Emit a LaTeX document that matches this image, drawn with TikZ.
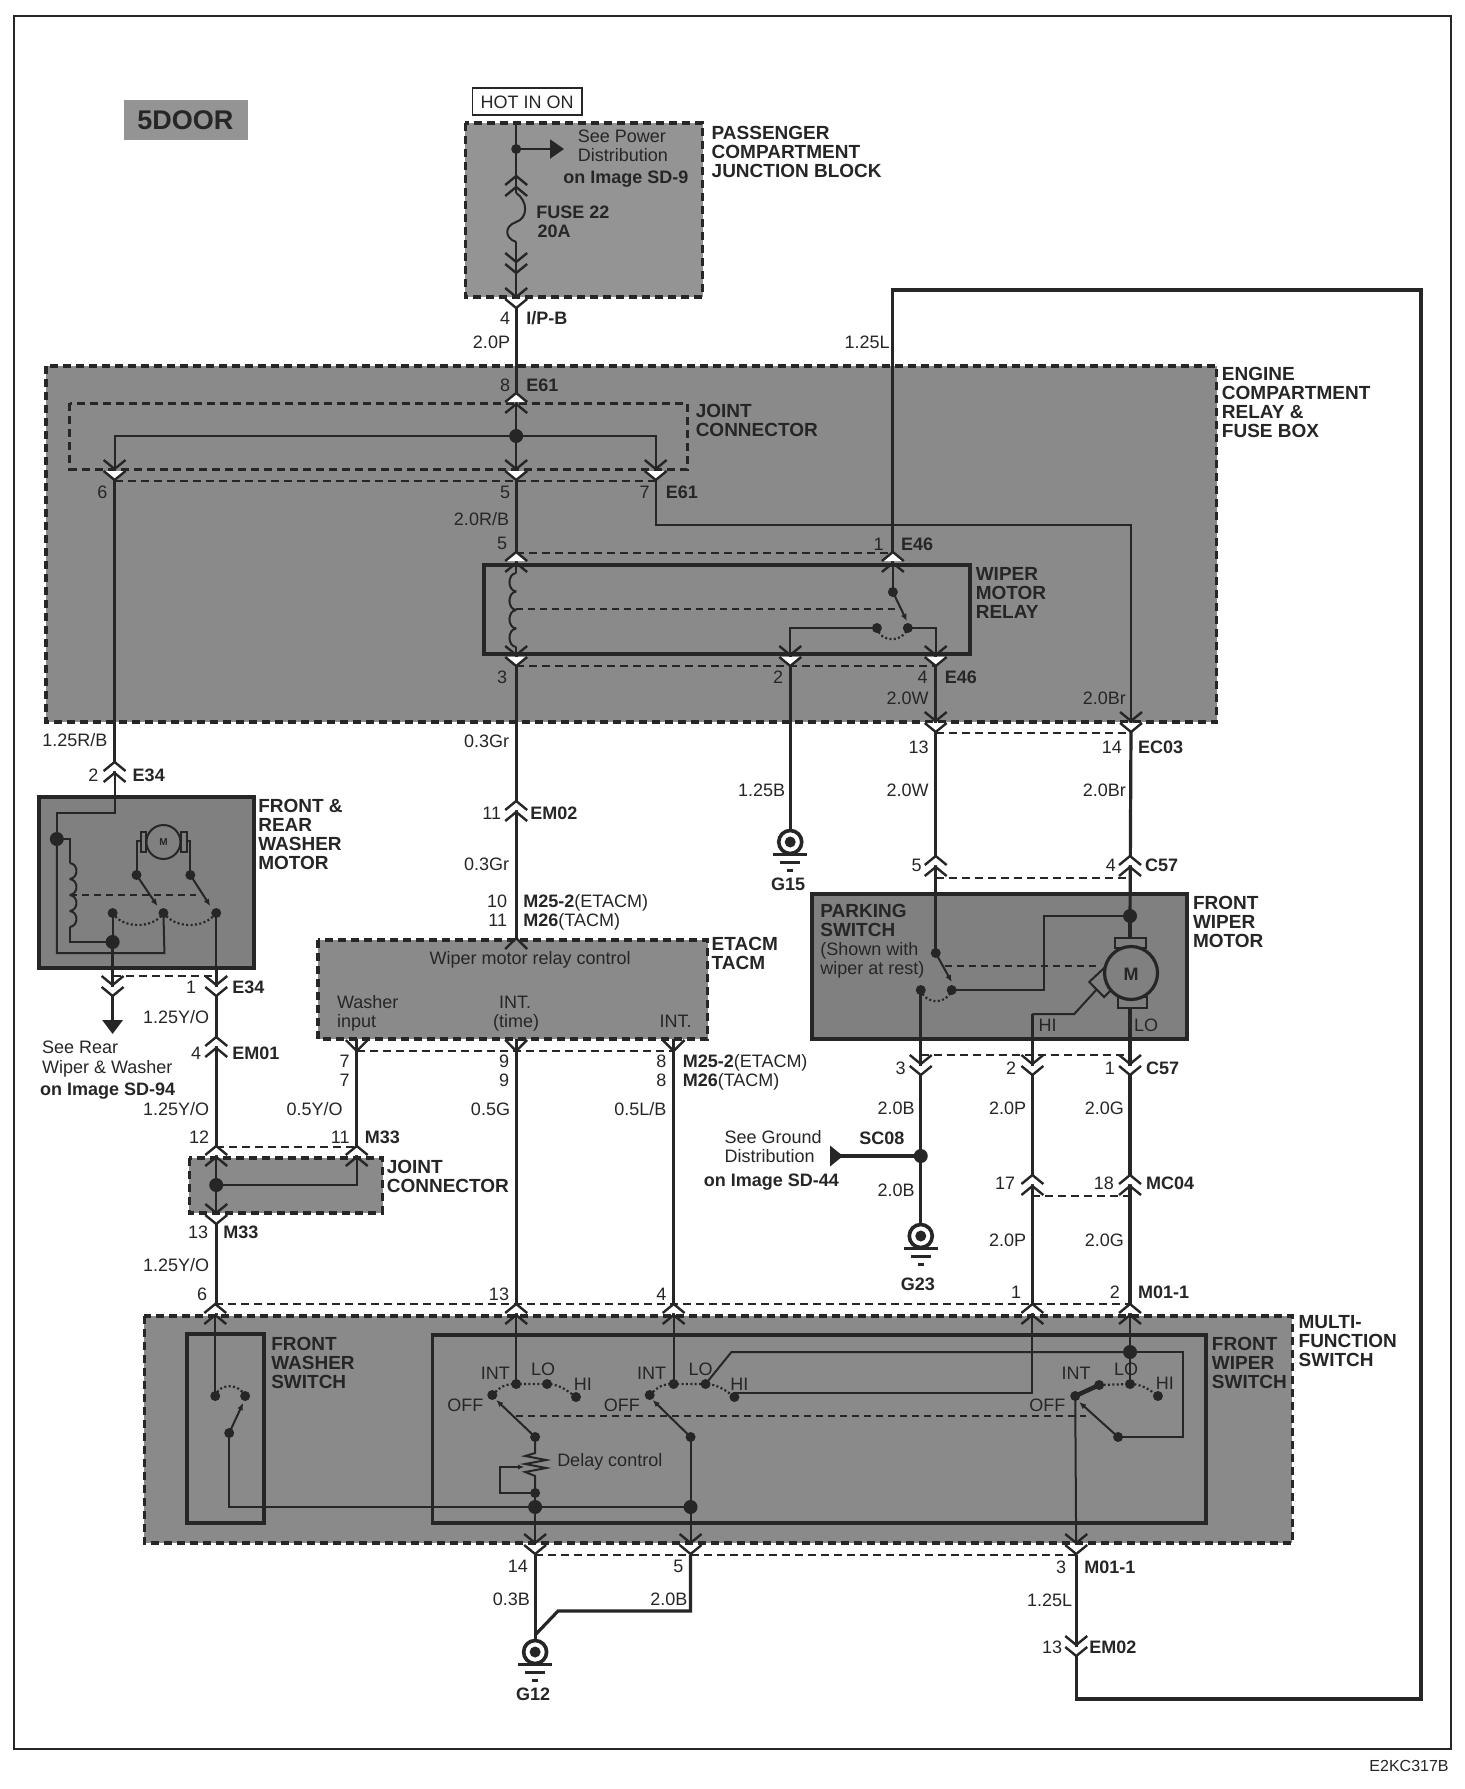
\documentclass[tikz,border=0pt]{standalone}
\usepackage{fontspec}
\setmainfont{Liberation Sans}
\usetikzlibrary{arrows.meta}
\colorlet{ink}{black!85}
\colorlet{boxgray}{black!46}
\colorlet{boxdark}{black!50}
\tikzset{
  wire/.style={ink,line width=3.2pt},
  wirethin/.style={ink,line width=2pt},
  linkdash/.style={ink,line width=1.7pt,dash pattern=on 8pt off 5pt},
  relaydash/.style={ink,line width=1.7pt,dash pattern=on 7pt off 5pt},
  dotline/.style={ink,line width=2.2pt,dash pattern=on 2pt off 2.4pt},
  grayzone/.style={fill=boxgray,draw=ink,line width=3.4pt,dash pattern=on 8pt off 5pt},
  solidbox/.style={draw=ink,line width=3.8pt},
  lbl/.style={font=\fontsize{18}{18}\selectfont,text=ink,inner sep=0pt,text height=13pt,text depth=0pt},
  bold/.style={lbl,font=\bfseries\fontsize{18}{18}\selectfont},
  tag/.style={font=\bfseries\fontsize{19}{19}\selectfont,text=ink,inner sep=0pt,anchor=north west,align=left},
  twindown/.pic={
    \draw[ink,line width=2.4pt] (-11,-9) -- (0,0) -- (11,-9);
    \draw[ink,line width=2.4pt] (-11,2) -- (0,11) -- (11,2);
  },
  twinup/.pic={
    \draw[ink,line width=2.4pt] (-11,9) -- (0,0) -- (11,9);
    \draw[ink,line width=2.4pt] (-11,-2) -- (0,-11) -- (11,-2);
  },
  plugdown/.pic={
    \fill[white] (-9,2) -- (0,11) -- (9,2) -- cycle;
    \draw[ink,line width=2.4pt] (-11,-9) -- (0,0) -- (11,-9);
    \draw[ink,line width=2.4pt] (-11,2) -- (0,11) -- (11,2);
  },
  plugup/.pic={
    \fill[white] (-9,-2) -- (0,-11) -- (9,-2) -- cycle;
    \draw[ink,line width=2.4pt] (-11,9) -- (0,0) -- (11,9);
    \draw[ink,line width=2.4pt] (-11,-2) -- (0,-11) -- (11,-2);
  },
  capdown/.pic={\draw[ink,line width=2.4pt] (-11,-11) -- (0,0) -- (11,-11);},
  capup/.pic={\draw[ink,line width=2.4pt] (-11,11) -- (0,0) -- (11,11);},
  groundsym/.pic={
    \draw[ink,line width=3.6pt,fill=white] (0,0) circle (11.5pt);
    \fill[ink] (0,0) circle (5.5pt);
    \draw[ink,line width=3pt] (-17,12) -- (17,12);
    \draw[ink,line width=3pt] (-10,20) -- (10,20);
    \draw[ink,line width=3pt] (-3,28) -- (3,28);
  },
}
\begin{document}
\begin{tikzpicture}[x=0.9965pt,y=-1pt]
  \useasboundingbox (0,0) rectangle (1470.1,1789);
  \fill[white] (0,0) rectangle (1470.1,1789);
  \draw[ink,line width=1.6pt] (14,16) rectangle (1456,1749);

  % gray zones
  \fill[black!42] (124,100) rectangle (249,140);
  \draw[grayzone,fill=black!42] (467,123) rectangle (705,297);
  \draw[grayzone] (46,366) rectangle (1221,722);
  \draw[grayzone] (319,940) rectangle (710,1039);
  \draw[grayzone] (190,1158) rectangle (384,1213);
  \draw[grayzone] (145,1316) rectangle (1297,1543);
  \fill[boxdark] (39,797) rectangle (255,968);
  \fill[boxdark] (815,894) rectangle (1191,1039);
  \draw[ink,line width=3pt,dash pattern=on 8pt off 5pt] (70,403) rectangle (690,469);

  % solid boxes
  \draw[ink,line width=1.6pt] (474,88) rectangle (584,115);
  \draw[solidbox] (486,565) rectangle (973,654);
  \draw[solidbox] (39,797) rectangle (255,968);
  \draw[solidbox] (815,894) rectangle (1191,1039);
  \draw[solidbox] (188,1334) rectangle (265,1523);
  \draw[solidbox] (434,1335) rectangle (1210,1523);

  % wire points
  \coordinate (hot) at (518,123);
  \coordinate (jpower) at (518,149);
  \coordinate (powerTip) at (566,149);
  \coordinate (fuseIn) at (518,193);
  \coordinate (fuseOut) at (518,242);
  \coordinate (ipb) at (518,297);
  \coordinate (jjoint) at (518,436);
  \coordinate (e61l) at (115,469);
  \coordinate (e61m) at (518,469);
  \coordinate (e61r) at (658,469);
  \coordinate (coilTop) at (518,573);
  \coordinate (coilEnd) at (518,647);
  \coordinate (relayBot) at (518,655);
  \coordinate (em02a) at (518,938);
  \coordinate (relayFeed) at (1135,721);
  \coordinate (armTop) at (896,592);
  \coordinate (relayNC) at (880,628);
  \coordinate (relayNO) at (911,628);
  \coordinate (relay2) at (793,655);
  \coordinate (relay4) at (939,655);
  \coordinate (g15) at (793,842);
  \coordinate (c57a) at (939,722);
  \coordinate (parkTop) at (939,953);
  \coordinate (parkA) at (924,990);
  \coordinate (parkB) at (955,990);
  \coordinate (jmotor) at (1134,916);
  \coordinate (motor) at (1135,973);
  \coordinate (sc08) at (924,1156);
  \coordinate (sc08Tip) at (833,1156);
  \coordinate (g23) at (924,1236);
  \coordinate (g12) at (537,1652);
  \coordinate (lo3) at (1134,1384);
  \coordinate (jlo3) at (1134,1352);
  \coordinate (hiWire) at (1036,1014);
  \coordinate (piv3) at (1122,1437);
  \coordinate (off3) at (1079,1396);
  \coordinate (int3) at (1103,1385);
  \coordinate (hi3) at (1162,1396);
  \coordinate (piv1) at (537,1437);
  \coordinate (off1) at (494,1395);
  \coordinate (int1) at (518,1384);
  \coordinate (lo1) at (549,1384);
  \coordinate (hi1) at (578,1397);
  \coordinate (piv2) at (693,1437);
  \coordinate (off2) at (652,1395);
  \coordinate (int2) at (676,1384);
  \coordinate (lo2) at (708,1384);
  \coordinate (hi2) at (737,1397);
  \coordinate (rheo) at (537,1493);
  \coordinate (jg1) at (537,1507);
  \coordinate (jg2) at (693,1507);
  \coordinate (wsA) at (216,1396);
  \coordinate (wsB) at (246,1396);
  \coordinate (wsP) at (230,1433);
  \coordinate (jm33) at (217,1185);
  \coordinate (m33r) at (358,1157);
  \coordinate (wm) at (164,842);
  \coordinate (wmIn) at (57,839);
  \coordinate (wmA) at (137,875);
  \coordinate (wmB) at (191,875);
  \coordinate (wmC) at (113,913);
  \coordinate (wmD) at (164,913);
  \coordinate (wmE) at (217,913);
  \coordinate (wmG) at (113,942);

  % wires, top group
  \draw[wirethin] (hot) -- (fuseIn);
  \draw[wirethin] (fuseIn) .. controls (530,201) and (530,218) .. (518,222) .. controls (506,226) and (506,238) .. (fuseOut);
  \draw[wirethin] (fuseOut) -- (ipb);
  \draw[wire] (ipb) -- (518,404);
  \draw[wirethin,-{Triangle[length=14pt,width=19pt]}] (jpower) -- (powerTip);
  \draw[wirethin] (518,404) -- (e61m);
  \draw[wirethin] (e61l) |- (jjoint) -| (e61r);
  \draw[wire] (e61l) -- (115,773);
  \draw[wire] (e61m) -- (518,565);
  \draw[wirethin] (e61r) |- (1135,525) -- (relayFeed);
  \foreach \y in {573,591.5,610,628.5}
    \draw[wirethin] (518,\y) .. controls (509,\y+1) and (509,\y+17.5) .. (518,\y+18.5);
  \draw[wirethin] (518,563) -- (coilTop);
  \draw[wirethin] (coilEnd) -- (relayBot);
  \draw[wire] (relayBot) -- (em02a);
  \draw[wire] (896,565) -- (896,290) -- (1426,290) -- (1426,1699) -- (1080,1699) -- (1080,1555);
  \draw[wirethin] (896,565) -- (armTop);
  \draw[wirethin,-{Latex[length=7pt,width=6pt]}] (armTop) -- (910,621);
  \draw[wirethin] (relayNC) -- (793,628) -- (relay2);
  \draw[wirethin] (relayNO) -- (939,628) -- (relay4);
  \draw[wire] (relay2) -- (g15);
  \draw[wire] (relay4) -- (c57a);
  \draw[wire] (relayFeed) -- (1135,722);
  \draw[wire] (c57a) -- (parkTop);
  \draw[wire] (1135,722) -- (jmotor);

  % front wiper motor
  \draw[wirethin,-{Latex[length=7pt,width=6pt]}] (parkTop) -- (955,982);
  \draw[wirethin] (parkB) -| (1048,916) -- (jmotor);
  \draw[wire] (jmotor) -- (1134,938);
  \draw[wirethin] (1119,938) rectangle (1150,948);
  \draw[wirethin] (1122,997) rectangle (1151,1008);
  \draw[wirethin,fill=boxdark] (1109,967) -- (1093,982) -- (1108,997) -- (1118,987) -- cycle;
  \draw[wire,fill=boxdark] (motor) circle (26.5pt);
  \draw[wirethin] (1100,990) -- (1078,1014) -- (hiWire);
  \draw[wire] (hiWire) -- (1036,1064);
  \draw[wire] (1134,1008) -- (1134,1064);
  \draw[wire] (parkA) -- (924,1064);
  \draw[wire] (924,1064) -- (g23);
  \draw[wire,-{Triangle[length=13pt,width=20pt,reversed]}] (sc08) -- (sc08Tip);
  \draw[wire] (1036,1064) -- (1036,1315);
  \draw[wire] (1134,1064) -- (1134,1315);

  % washer motor side
  \draw[wirethin] (115,773) -- (115,813) -| (wmIn);
  \draw[wirethin] (wmIn) -- (57,953) -- (165,953) -- (wmD);
  \draw[wirethin] (wmIn) -- (70,839) -- (70,863);
  \foreach \y in {863,879,895,911}
    \draw[wirethin] (70,\y) .. controls (79,\y+1) and (79,\y+15) .. (70,\y+16);
  \draw[wirethin] (70,927) |- (wmG);
  \draw[wirethin] (wmC) -- (wmG);
  \draw[wire] (wmG) -- (113,1020);
  \draw[wire,-{Triangle[length=14pt,width=20pt]}] (113,1020) -- (113,1034);
  \draw[wirethin,fill=boxdark] (wm) circle (17pt);
  \draw[wirethin] (141,832) rectangle (147,852);
  \draw[wirethin] (182,832) rectangle (188,852);
  \draw[wirethin] (wmA) |- (141,841);
  \draw[wirethin] (wmB) |- (188,841);
  \draw[wirethin,-{Latex[length=7pt,width=6pt]}] (wmA) -- (158,906);
  \draw[wirethin,-{Latex[length=7pt,width=6pt]}] (wmB) -- (211,906);
  \draw[wirethin] (wmE) -- (217,968);
  \draw[wire] (217,968) -- (217,1157);
  \draw[wirethin] (217,1157) -- (217,1213);
  \draw[wirethin] (jm33) -| (m33r);
  \draw[wire] (217,1213) -- (217,1315);
  \draw[wire] (358,1039) -- (m33r);
  \draw[wire] (518,1039) -- (518,1315);
  \draw[wire] (676,1039) -- (676,1315);

  % multi-function switch
  \draw[wirethin] (216,1315) -- (wsA);
  \draw[wirethin,-{Latex[length=7pt,width=6pt]}] (wsP) -- (244,1403);
  \draw[wirethin] (wsP) |- (jg2);
  \draw[wirethin] (518,1315) -- (int1);
  \draw[wirethin] (676,1315) -- (int2);
  \draw[wirethin,-{Latex[length=7pt,width=6pt]}] (piv1) -- (498,1400);
  \draw[wirethin,-{Latex[length=7pt,width=6pt]}] (piv2) -- (655,1400);
  \draw[wirethin,-{Latex[length=7pt,width=6pt]}] (piv3) -- (1083,1402);
  \draw[wirethin] (piv1) -- (537,1453) -- (527,1456) -- (548,1460) -- (527,1464) -- (548,1468) -- (527,1472) -- (537,1476) -- (rheo);
  \draw[wirethin,-{Latex[length=6pt,width=5pt]}] (rheo) -| (502,1467) -- (526,1467);
  \draw[wirethin] (rheo) -- (537,1555);
  \draw[wirethin] (piv2) -- (693,1555);
  \draw[wirethin] (lo2) -- (734,1352) -- (jlo3);
  \draw[wirethin] (1134,1315) -- (lo3);
  \draw[wirethin] (jlo3) -- (1187,1352) |- (piv3);
  \draw[wirethin] (hi2) -- (737,1393) -- (1036,1393) -- (1036,1315);
  \draw[line width=4.5pt,ink] (off3) -- (int3);
  \draw[wirethin] (off3) -- (1080,1555);
  \draw[wire] (537,1555) -- (537,1635);
  \draw[wire] (693,1555) -- (693,1611) -- (560,1611) -- (537,1635);
  \draw[wire] (537,1635) -- (537,1642);

  % switch travel
  \draw[dotline] (relayNC) .. controls +(4,15) and +(-5,15) .. (relayNO);
  \draw[dotline] (parkA) .. controls +(5,15) and +(-5,15) .. (parkB);
  \draw[dotline] (wmC) .. controls +(10,16) and +(-10,16) .. (wmD);
  \draw[dotline] (wmD) .. controls +(12,16) and +(-12,16) .. (wmE);
  \draw[dotline] (wsA) .. controls +(4,-13) and +(-6,-13) .. (wsB);
  \draw[dotline] (off1) .. controls +(8,-8) and +(-12,0) .. (int1) -- (lo1) .. controls +(12,0) and +(-8,-6) .. (hi1);
  \draw[dotline] (off2) .. controls +(8,-8) and +(-12,0) .. (int2) -- (lo2) .. controls +(12,0) and +(-8,-6) .. (hi2);
  \draw[dotline] (int3) -- (lo3) .. controls +(12,0) and +(-8,-6) .. (hi3);

  % mechanical links and connector ties
  \draw[relaydash] (518,609) -- (899,609);
  \draw[relaydash] (70,895) -- (197,895);
  \draw[relaydash] (948,966) -- (1101,966);
  \draw[relaydash] (518,1416) -- (1090,1416);
  \foreach \xa/\xb/\y in {115/658/481,518/896/553,518/939/666,939/1135/733,939/1134/878,113/217/976,
      358/676/1051,217/358/1147,924/1134/1055,1036/1134/1196,216/1134/1304,537/1080/1555}
    \draw[linkdash] (\xa,\y) -- (\xb,\y);

  % connectors
  \pic at (518,262) {twindown};
  \pic at (518,187) {twinup};
  \foreach \x/\y in {518/297,115/469,518/469,658/469,518/655,793/655,939/655,939/721,1135/721,113/985,217/985,
      924/1064,1036/1064,1134/1064,217/1213,537/1543,693/1543,1080/1543,1080/1645}
    \pic at (\x,\y) {plugdown};
  \foreach \x/\y in {518/404,518/563,896/563,115/773,518/812,939/867,1134/867,217/1048,217/1157,358/1157,
      1036/1186,1134/1186,216/1315,518/1315,676/1315,1036/1315,1134/1315}
    \pic at (\x,\y) {plugup};
  \pic at (518,938) {capup};
  \foreach \x in {358,518,676}
    \pic at (\x,1051) {capdown};
  \pic at (g15) {groundsym};
  \pic at (g23) {groundsym};
  \pic at (g12) {groundsym};

  % dots
  \foreach \p in {jjoint,jmotor,wmIn,wmG,sc08,jm33,jg1,jg2,jlo3}
    \fill[ink] (\p) circle (7pt);
  \foreach \p in {jpower,armTop,relayNC,relayNO,parkTop,parkA,parkB,wmA,wmB,wmC,wmD,wmE,wsA,wsB,wsP,off1,int1,lo1,hi1,piv1,rheo,
      off2,int2,lo2,hi2,piv2,off3,int3,lo3,hi3,piv3}
    \fill[ink] (\p) circle (5pt);

  % titles
  \node[font=\bfseries\fontsize{27}{27}\selectfont,text=ink,inner sep=0pt] (doors) at (186,120) {5DOOR};
  \node[lbl] (hotin) at (529,102) {HOT IN ON};
  \node[lbl] (tag) at (1414,1765) {\fontsize{16}{16}\selectfont E2KC317B};

  % block names
  \node[tag] (pjb) at (714,126) {PASSENGER\\COMPARTMENT\\JUNCTION BLOCK};
  \node[tag] (ecr) at (1226,367) {ENGINE\\COMPARTMENT\\RELAY \&\\FUSE BOX};
  \node[tag] (joint1) at (698,404) {JOINT\\CONNECTOR};
  \node[tag] (relay) at (979,567) {WIPER\\MOTOR\\RELAY};
  \node[tag] (wash) at (259,799) {FRONT \&\\REAR\\WASHER\\MOTOR};
  \node[tag] (etacm) at (714,937) {ETACM\\TACM};
  \node[tag] (fwm) at (1197,896) {FRONT\\WIPER\\MOTOR};
  \node[tag] (park) at (823,904) {PARKING\\SWITCH};
  \node[tag] (joint2) at (388,1160) {JOINT\\CONNECTOR};
  \node[tag] (fws) at (272,1337) {FRONT\\WASHER\\SWITCH};
  \node[tag] (wps) at (1216,1337) {FRONT\\WIPER\\SWITCH};
  \node[tag] (mfs) at (1303,1315) {MULTI-\\FUNCTION\\SWITCH};

  % plain labels, right edge given
  \foreach \x/\y/\t [count=\i] in {512/318/4,512/342/{2.0P},893/342/{1.25L},512/385/8,108/492/6,512/492/5,652/492/7,
      511/519/{2.0R/B},509/543/5,887/544/1,509/677/3,786/677/2,931/677/4,932/698/{2.0W},1130/698/{2.0Br},
      108/740/{1.25R/B},511/741/{0.3Gr},932/747/13,1126/747/14,788/790/{1.25B},932/790/{2.0W},1130/790/{2.0Br},
      503/813/11,511/864/{0.3Gr},925/865/5,1120/865/4,99/775/2,509/901/10,509/920/11,197/987/1,210/1017/{1.25Y/O},
      202/1053/4,351/1061/7,511/1061/9,669/1061/8,351/1080/7,511/1080/9,669/1080/8,909/1068/3,1020/1068/2,1119/1068/1,
      918/1108/{2.0B},1030/1108/{2.0P},1128/1108/{2.0G},210/1109/{1.25Y/O},344/1109/{0.5Y/O},512/1109/{0.5G},669/1109/{0.5L/B},
      210/1137/12,351/1137/11,1019/1183/17,1118/1183/18,918/1190/{2.0B},1030/1240/{2.0P},1128/1240/{2.0G},209/1232/13,
      210/1265/{1.25Y/O},1025/1292/1,1124/1292/2,208/1294/6,511/1294/13,669/1294/4,530/1566/14,686/1566/5,1070/1567/3,
      532/1599/{0.3B},690/1599/{2.0B},1076/1600/{1.25L},1066/1647/13}
    \node[lbl,anchor=east] (r\i) at (\x,\y) {\t};

  % bold connector names, left edge given
  \foreach \x/\y/\t [count=\i] in {528/318/{I/P-B},528/385/E61,668/492/E61,904/544/E46,948/677/E46,1142/747/EC03,
      133/775/E34,532/813/EM02,1149/865/C57,233/987/E34,233/1053/EM01,1150/1068/C57,366/1137/M33,
      1150/1183/MC04,224/1232/M33,1142/1292/{M01-1},1088/1567/{M01-1},1093/1647/EM02}
    \node[bold,anchor=west] (n\i) at (\x,\y) {\t};

  % connector names with the module in plain type
  \node[lbl,anchor=west] (m1) at (525,901) {\textbf{M25-2}(ETACM)};
  \node[lbl,anchor=west] (m2) at (525,920) {\textbf{M26}(TACM)};
  \node[lbl,anchor=west] (m3) at (685,1061) {\textbf{M25-2}(ETACM)};
  \node[lbl,anchor=west] (m4) at (685,1080) {\textbf{M26}(TACM)};

  % notes, centred or left
  \foreach \x/\y/\t [count=\i] in {624/136/{See Power},625/155/Distribution,532/958/{Wiper motor relay control},
      517/1002/{INT.},518/1021/{(time)},678/1021/{INT.},497/1373/INT,545/1369/LO,585/1384/HI,467/1405/OFF,
      654/1373/INT,703/1369/LO,742/1384/HI,624/1405/OFF,1080/1373/INT,1130/1369/LO,1169/1383/HI,1051/1405/OFF}
    \node[lbl] (c\i) at (\x,\y) {\t};
  \foreach \x/\y/\t [count=\i] in {338/1002/Washer,338/1021/input,823/949/{(Shown with},823/968/{wiper at rest)},
      42/1047/{See Rear},42/1067/{Wiper \& Washer},727/1137/{See Ground},727/1156/Distribution,
      1042/1025/HI,1138/1025/LO,559/1460/{Delay control}}
    \node[lbl,anchor=west] (l\i) at (\x,\y) {\t};
  \node[bold] (fuse) at (575,212) {FUSE 22};
  \node[bold] (amps) at (556,231) {20A};
  \node[bold] (sd9) at (628,177) {on Image SD-9};
  \node[bold,anchor=west] (sd94) at (40,1089) {on Image SD-94};
  \node[bold] (sd44) at (774,1180) {on Image SD-44};
  \node[bold] (gnd15) at (791,884) {G15};
  \node[bold] (sc) at (885,1138) {SC08};
  \node[bold] (gnd23) at (921,1284) {G23};
  \node[bold] (gnd12) at (535,1694) {G12};
  \node[font=\bfseries\fontsize{10}{10}\selectfont,text=ink,inner sep=0pt] (mwash) at (wm) {M};
  \node[bold] (mfront) at (1135,974) {M};
\end{tikzpicture}
\end{document}
